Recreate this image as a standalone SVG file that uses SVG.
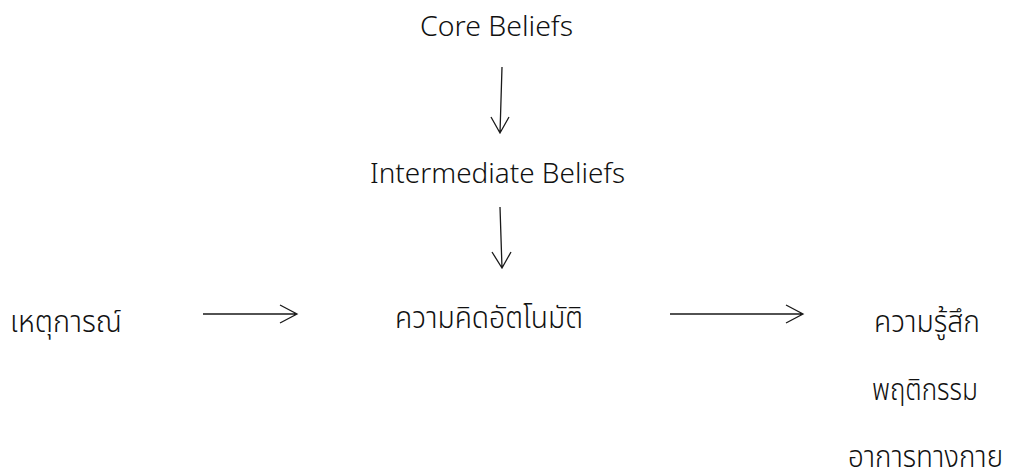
<svg xmlns="http://www.w3.org/2000/svg" width="1011" height="476" viewBox="0 0 1011 476">
  <style>
    .lbl { font-family: "Noto Sans", "DejaVu Sans", sans-serif; font-weight: 300; fill: #111111; }
    .en { font-size: 28px; }
    .th { font-family: "Noto Sans Thai", "Noto Sans Thai UI", "Noto Sans", sans-serif; font-size: 31px; font-weight: 300; }
    .conn { stroke: #1a1a1a; stroke-width: 1.3; fill: none; }
  </style>
  <rect width="1011" height="476" fill="#ffffff"/>

  <g id="core-beliefs"><text class="lbl en" x="420" y="36" textLength="153" lengthAdjust="spacingAndGlyphs">Core Beliefs</text></g>
  <g id="intermediate-beliefs"><text class="lbl en" x="370" y="183" textLength="255" lengthAdjust="spacingAndGlyphs">Intermediate Beliefs</text></g>
  <g id="event"><text class="lbl th" x="10" y="332" textLength="112" lengthAdjust="spacingAndGlyphs">เหตุการณ์</text></g>
  <g id="automatic-thoughts"><text class="lbl th" x="395" y="328" textLength="188" lengthAdjust="spacingAndGlyphs">ความคิดอัตโนมัติ</text></g>
  <g id="feelings"><text class="lbl th" x="874" y="332" textLength="106" lengthAdjust="spacingAndGlyphs">ความรู้สึก</text></g>
  <g id="behaviour"><text class="lbl th" x="872" y="400" textLength="106" lengthAdjust="spacingAndGlyphs">พฤติกรรม</text></g>
  <g id="physical-symptoms"><text class="lbl th" x="848" y="467" textLength="155" lengthAdjust="spacingAndGlyphs">อาการทางกาย</text></g>

  <g id="connectors">
    <path class="conn" d="M502 67 L500 133 M491 117 L500 133 L509 117"/>
    <path class="conn" d="M500 207 L502 268 M492 252 L502 268 L511 252"/>
    <path class="conn" d="M203 314 L297 314 M280 305 L297 314 L280 323"/>
    <path class="conn" d="M670 314 L803 314 M786 305 L803 314 L786 323"/>
  </g>
</svg>
